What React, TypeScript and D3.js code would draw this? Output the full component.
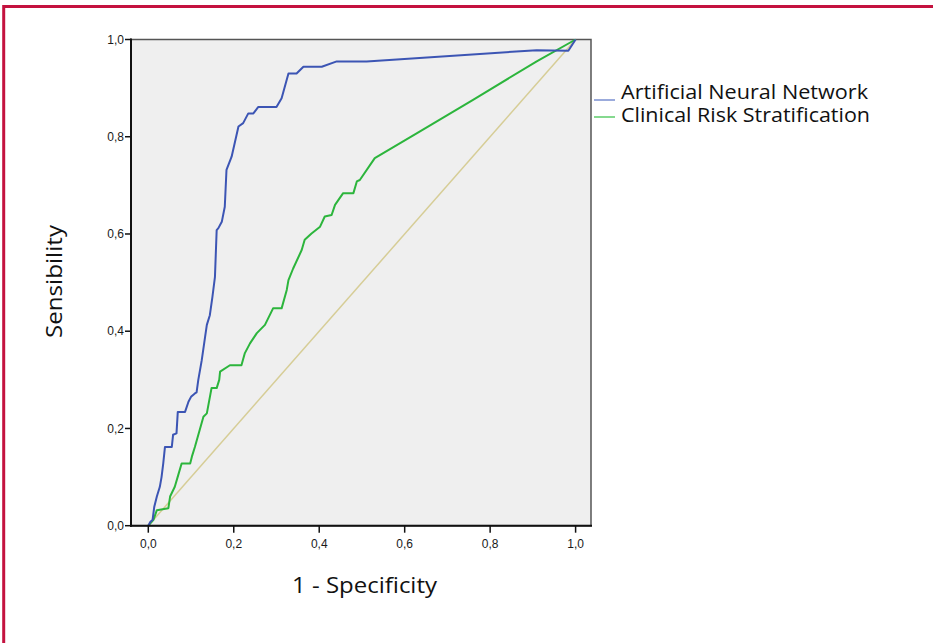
import React from "react";
import * as d3 from "d3";

const annFpr = [0, 0.005, 0.01, 0.014, 0.02, 0.027, 0.031, 0.035, 0.039, 0.055, 0.058, 0.066, 0.069, 0.086, 0.094, 0.1, 0.109, 0.113, 0.117, 0.125, 0.133, 0.137, 0.144, 0.15, 0.156, 0.16, 0.164, 0.172, 0.179, 0.183, 0.195, 0.211, 0.222, 0.234, 0.246, 0.257, 0.3, 0.312, 0.328, 0.347, 0.363, 0.406, 0.441, 0.511, 0.909, 0.983, 1];
const annTpr = [0, 0.008, 0.012, 0.039, 0.06, 0.08, 0.1, 0.128, 0.162, 0.162, 0.187, 0.19, 0.234, 0.234, 0.255, 0.265, 0.272, 0.274, 0.3, 0.34, 0.389, 0.413, 0.433, 0.47, 0.512, 0.608, 0.612, 0.625, 0.656, 0.732, 0.759, 0.821, 0.828, 0.848, 0.848, 0.861, 0.861, 0.879, 0.93, 0.93, 0.944, 0.944, 0.955, 0.955, 0.978, 0.977, 1];

const crsFpr = [0, 0.012, 0.02, 0.047, 0.051, 0.062, 0.07, 0.078, 0.098, 0.102, 0.109, 0.129, 0.137, 0.148, 0.16, 0.166, 0.168, 0.191, 0.218, 0.226, 0.238, 0.254, 0.273, 0.292, 0.312, 0.324, 0.328, 0.339, 0.359, 0.366, 0.382, 0.402, 0.413, 0.429, 0.437, 0.456, 0.48, 0.488, 0.495, 0.53, 0.628, 0.76, 0.909, 1];
const crsTpr = [0, 0.012, 0.032, 0.036, 0.06, 0.08, 0.104, 0.128, 0.128, 0.142, 0.162, 0.224, 0.231, 0.283, 0.283, 0.3, 0.317, 0.33, 0.33, 0.355, 0.375, 0.396, 0.413, 0.447, 0.447, 0.485, 0.505, 0.529, 0.567, 0.588, 0.601, 0.615, 0.636, 0.639, 0.66, 0.684, 0.684, 0.708, 0.711, 0.756, 0.807, 0.876, 0.955, 1];

const refLine = [0, 1];
const ticks = [0, 0.2, 0.4, 0.6, 0.8, 1.0];
const seriesNames = ["Artificial Neural Network", "Clinical Risk Stratification"];
const xTitle = "1 - Specificity";
const yTitle = "Sensibility";

const W = 933;
const H = 643;
const plotL = 131, plotR = 591, plotT = 39.5, plotB = 525.7;

export default function App() {
  const x = d3.scaleLinear().domain([0, 1]).range([148.3, 575.6]);
  const y = d3.scaleLinear().domain([0, 1]).range([plotB, plotT]);
  const line = d3.line<[number, number]>().x((d) => x(d[0])).y((d) => y(d[1]));
  const ann = line(annFpr.map((v, i) => [v, annTpr[i]] as [number, number])) || "";
  const crs = line(crsFpr.map((v, i) => [v, crsTpr[i]] as [number, number])) || "";
  const diag = line(refLine.map((v) => [v, v] as [number, number])) || "";
  const fmt = (v: number) => v.toFixed(1).replace(".", ",");
  const colors = ["#3c55b4", "#2cb53c"];
  const legendColors = ["#7a8fd0", "#5ccc6a"];
  const legendWidths = [247, 249];

  return (
    <svg width={W} height={H} style={{ position: "absolute", left: 0, top: 0, background: "#fff" }}>
      <rect x={0} y={0} width={W} height={H} fill="#fff" />
      {/* frame */}
      <line x1={3.7} y1={6.5} x2={W} y2={6.5} stroke="#c4123f" strokeWidth={3} />
      <line x1={3.7} y1={5} x2={3.7} y2={H} stroke="#c4123f" strokeWidth={3} />
      {/* plot background */}
      <rect x={plotL} y={plotT} width={plotR - plotL} height={plotB - plotT} fill="#efefef" stroke="#555" strokeWidth={1.5} />
      {/* diag */}
      <path d={diag} fill="none" stroke="#d6cd96" strokeWidth={1.5} />
      <path d={crs} fill="none" stroke={colors[1]} strokeWidth={2} strokeLinejoin="round" />
      <path d={ann} fill="none" stroke={colors[0]} strokeWidth={2} strokeLinejoin="round" />
      {/* axes */}
      <line x1={plotL} y1={plotT - 1} x2={plotL} y2={plotB + 1} stroke="#111" strokeWidth={2} />
      <line x1={plotL - 1} y1={plotB} x2={plotR + 1} y2={plotB} stroke="#111" strokeWidth={2} />
      {ticks.map((t) => (
        <g key={"y" + t}>
          <line x1={plotL - 6} x2={plotL} y1={y(t)} y2={y(t)} stroke="#111" strokeWidth={1.5} />
          <text x={plotL - 7} y={y(t)} dy="0.35em" textAnchor="end" fontFamily="Liberation Sans, Arial, sans-serif" fontSize={12} fill="#1a1a1a">
            {fmt(t)}
          </text>
        </g>
      ))}
      {ticks.map((t) => (
        <g key={"x" + t}>
          <line x1={x(t)} x2={x(t)} y1={plotB} y2={plotB + 7} stroke="#111" strokeWidth={1.5} />
          <text x={x(t)} y={plotB + 22} textAnchor="middle" fontFamily="Liberation Sans, Arial, sans-serif" fontSize={12} fill="#1a1a1a">
            {fmt(t)}
          </text>
        </g>
      ))}
      {/* titles */}
      <text x={292} y={593} textLength={145} lengthAdjust="spacingAndGlyphs" fontFamily="Open Sans, sans-serif" fontSize={22} fill="#111">
        {xTitle}
      </text>
      <text transform={`translate(62,338) rotate(-90)`} textLength={113} lengthAdjust="spacingAndGlyphs" fontFamily="Open Sans, sans-serif" fontSize={22} fill="#111">
        {yTitle}
      </text>
      {/* legend */}
      {seriesNames.map((n, i) => (
        <g key={n}>
          <line x1={594} x2={615} y1={100 + i * 17} y2={100 + i * 17} stroke={legendColors[i]} strokeWidth={1.5} />
          <text x={621} y={99 + i * 23} textLength={legendWidths[i]} lengthAdjust="spacingAndGlyphs" fontFamily="Open Sans, sans-serif" fontSize={20} fill="#111">
            {n}
          </text>
        </g>
      ))}
    </svg>
  );
}
